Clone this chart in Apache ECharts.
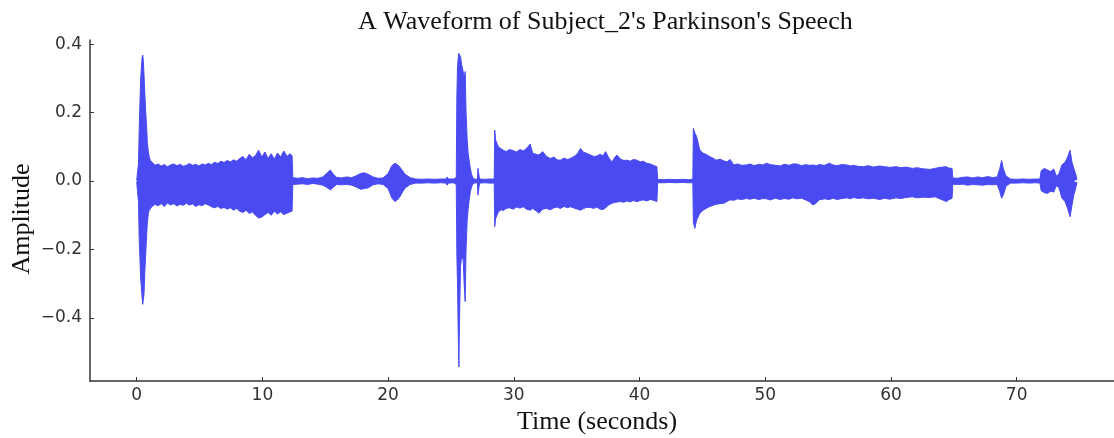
<!DOCTYPE html>
<html>
<head>
    <meta charset="utf-8">
    <title>Waveform</title>
    <script src="https://cdn.jsdelivr.net/npm/echarts@6/dist/echarts.min.js"></script>
    <style>
        html, body { margin: 0; padding: 0; background: #fff; }
    </style>
</head>
<body>
<div id="main" style="width: 1114px;height:438px;"></div>
<script type="text/javascript">

    // envelope: time (s), upper and lower amplitude
    const timeSec = [
        0.00, 0.12,
        // first burst
        0.14, 0.20, 0.25, 0.31, 0.37, 0.43, 0.48, 0.53, 0.58, 0.64, 0.72, 0.80, 0.85, 0.93, 1.00, 1.10, 1.20,
        1.45, 1.70, 1.95, 2.20, 2.45, 2.70, 2.95, 3.20, 3.45, 3.70, 3.95, 4.20, 4.45, 4.70, 4.95, 5.20, 5.45, 5.70, 5.95,
        6.20, 6.45, 6.70, 6.95, 7.20, 7.45, 7.70, 7.95, 8.20, 8.45, 8.70, 8.95, 9.20, 9.45, 9.70, 9.95,
        10.20, 10.45, 10.70, 10.95, 11.20, 11.45, 11.70, 11.95, 12.20, 12.36,
        // quiet part
        12.42, 12.80, 13.20, 13.60, 14.00, 14.40, 14.80, 15.10, 15.40, 15.65, 15.90, 16.30, 16.70, 17.10,
        17.50, 17.80, 18.10, 18.40, 18.80, 19.20, 19.60, 20.00, 20.30, 20.55, 20.80, 20.95, 21.15, 21.35, 21.75,
        22.20, 22.70, 23.20, 23.70, 24.20, 24.60, 24.70, 24.80, 25.20, 25.42,
        // second spike
        25.47, 25.52, 25.58, 25.63, 25.68, 25.76, 25.85, 25.97, 26.05, 26.13, 26.20, 26.29, 26.37, 26.45, 26.55, 26.65,
        26.80, 27.10, 27.15, 27.22, 27.27, 27.70, 28.10, 28.44,
        // third burst
        28.48, 28.55, 28.77, 29.00, 29.17, 29.40, 29.65, 29.96, 30.20, 30.49, 30.75, 31.00, 31.30, 31.50, 31.80,
        32.00, 32.30, 32.60, 32.90, 33.20, 33.45, 33.70, 34.00, 34.25, 34.50, 34.80, 35.05, 35.30, 35.55, 35.80,
        36.10, 36.35, 36.60, 36.85, 37.10, 37.30, 37.55, 37.80, 38.05, 38.20, 38.50, 38.75, 39.00, 39.25, 39.50,
        39.80, 40.05, 40.30, 40.57, 40.85, 41.10, 41.38,
        // quiet part
        41.44, 41.90, 42.40, 42.90, 43.40, 43.90, 44.24,
        // fourth burst
        44.28, 44.40, 44.54, 44.80, 45.07, 45.30, 45.60, 45.90, 46.10, 46.40, 46.70, 46.95, 47.20, 47.50, 47.80,
        48.10, 48.50, 48.80, 49.10, 49.50, 49.80, 50.10, 50.40, 50.80, 51.20, 51.50, 51.90, 52.20, 52.50, 52.90,
        53.20, 53.50, 53.80, 54.05, 54.30, 54.70, 55.10, 55.40, 55.70, 56.10, 56.50, 56.80, 57.00, 57.40, 57.80,
        58.20, 58.60, 59.10, 59.50, 59.90, 60.40, 60.80, 61.20, 61.70, 62.10, 62.50, 63.10, 63.50, 63.90, 64.40,
        64.60, 64.86,
        // tail
        64.92, 65.30, 65.70, 66.10, 66.50, 66.90, 67.30, 67.70, 68.10, 68.45, 68.65, 68.80, 68.95, 69.15,
        69.50, 70.00, 70.50, 71.00, 71.50, 71.85, 71.95, 72.20, 72.45, 72.70, 72.95, 73.15, 73.35,
        73.60, 73.85, 74.05, 74.25, 74.40, 74.55, 74.70, 74.80
    ];

    const upperAmp = [
        0.003, 0.004,
        0.05, 0.15, 0.22, 0.29, 0.33, 0.36, 0.368, 0.35, 0.31, 0.26, 0.20, 0.15, 0.11, 0.085, 0.07, 0.06, 0.055,
        0.046, 0.050, 0.044, 0.048, 0.042, 0.047, 0.050, 0.045, 0.049, 0.043, 0.046, 0.051, 0.046, 0.049, 0.044, 0.050, 0.047, 0.052, 0.048,
        0.055, 0.051, 0.058, 0.054, 0.060, 0.056, 0.062, 0.058, 0.066, 0.072, 0.062, 0.078, 0.068, 0.075, 0.090, 0.070,
        0.085, 0.066, 0.080, 0.064, 0.082, 0.070, 0.088, 0.072, 0.080, 0.074,
        0.010, 0.008, 0.010, 0.007, 0.009, 0.008, 0.012, 0.022, 0.032, 0.020, 0.011, 0.009, 0.012, 0.010,
        0.016, 0.022, 0.024, 0.020, 0.012, 0.008, 0.009, 0.022, 0.045, 0.052, 0.046, 0.040, 0.030, 0.020, 0.010,
        0.006, 0.005, 0.006, 0.005, 0.006, 0.006, 0.012, 0.006, 0.006, 0.010,
        0.25, 0.334, 0.36, 0.373, 0.37, 0.363, 0.34, 0.32, 0.30, 0.32, 0.20, 0.12, 0.08, 0.06, 0.035, 0.018,
        0.006, 0.005, 0.037, 0.037, 0.006, 0.005, 0.006, 0.006,
        0.149, 0.12, 0.10, 0.094, 0.09, 0.086, 0.092, 0.089, 0.085, 0.092, 0.088, 0.095, 0.108, 0.081, 0.078,
        0.076, 0.086, 0.072, 0.066, 0.070, 0.062, 0.061, 0.067, 0.063, 0.066, 0.072, 0.080, 0.095, 0.084, 0.081,
        0.076, 0.072, 0.073, 0.078, 0.074, 0.086, 0.068, 0.056, 0.070, 0.076, 0.064, 0.060, 0.061, 0.058, 0.063,
        0.061, 0.056, 0.058, 0.052, 0.050, 0.046, 0.042,
        0.005, 0.004, 0.005, 0.004, 0.005, 0.004, 0.005,
        0.154, 0.14, 0.13, 0.09, 0.081, 0.078, 0.071, 0.066, 0.061, 0.064, 0.059, 0.056, 0.063, 0.047, 0.050,
        0.046, 0.047, 0.050, 0.045, 0.049, 0.047, 0.052, 0.048, 0.046, 0.044, 0.049, 0.046, 0.050, 0.050, 0.045,
        0.048, 0.046, 0.047, 0.045, 0.048, 0.046, 0.052, 0.047, 0.045, 0.048, 0.047, 0.044, 0.046, 0.043, 0.042,
        0.045, 0.041, 0.044, 0.042, 0.040, 0.042, 0.039, 0.041, 0.037, 0.039, 0.036, 0.034, 0.037, 0.040, 0.042,
        0.038, 0.037,
        0.009, 0.008, 0.011, 0.012, 0.009, 0.012, 0.010, 0.013, 0.010, 0.012, 0.035, 0.060, 0.035, 0.015,
        0.006, 0.005, 0.006, 0.005, 0.006, 0.006, 0.030, 0.037, 0.032, 0.028, 0.035, 0.015, 0.020,
        0.047, 0.055, 0.070, 0.090, 0.055, 0.037, 0.020, 0.004
    ];

    const lowerAmp = [
        -0.003, -0.004,
        -0.06, -0.17, -0.22, -0.28, -0.31, -0.34, -0.36, -0.364, -0.33, -0.27, -0.21, -0.153, -0.12, -0.094, -0.085, -0.08, -0.075,
        -0.068, -0.072, -0.066, -0.074, -0.064, -0.070, -0.066, -0.073, -0.068, -0.071, -0.065, -0.070, -0.067, -0.074, -0.069, -0.072, -0.066, -0.070, -0.075,
        -0.078, -0.074, -0.080, -0.077, -0.082, -0.078, -0.085, -0.080, -0.088, -0.092, -0.085, -0.095, -0.090, -0.100, -0.108, -0.105,
        -0.098, -0.092, -0.100, -0.088, -0.096, -0.090, -0.098, -0.094, -0.090, -0.088,
        -0.010, -0.009, -0.008, -0.010, -0.007, -0.009, -0.012, -0.018, -0.026, -0.018, -0.010, -0.011, -0.010, -0.012,
        -0.018, -0.024, -0.022, -0.020, -0.011, -0.008, -0.010, -0.022, -0.050, -0.060, -0.052, -0.045, -0.032, -0.020, -0.010,
        -0.006, -0.006, -0.005, -0.006, -0.005, -0.006, -0.012, -0.006, -0.005, -0.010,
        -0.22, -0.30, -0.45, -0.543, -0.40, -0.25, -0.22, -0.23, -0.30, -0.352, -0.20, -0.114, -0.08, -0.055, -0.03, -0.015,
        -0.006, -0.005, -0.041, -0.041, -0.006, -0.005, -0.006, -0.006,
        -0.133, -0.11, -0.09, -0.084, -0.086, -0.080, -0.078, -0.082, -0.076, -0.079, -0.075, -0.082, -0.085, -0.080, -0.088,
        -0.094, -0.082, -0.080, -0.084, -0.078, -0.076, -0.080, -0.074, -0.078, -0.075, -0.079, -0.082, -0.085, -0.080, -0.077,
        -0.077, -0.080, -0.076, -0.082, -0.083, -0.078, -0.070, -0.065, -0.062, -0.064, -0.060, -0.062, -0.058, -0.061, -0.057,
        -0.060, -0.057, -0.055, -0.058, -0.054, -0.056, -0.060,
        -0.005, -0.005, -0.004, -0.005, -0.004, -0.005, -0.005,
        -0.12, -0.138, -0.114, -0.094, -0.085, -0.080, -0.074, -0.070, -0.068, -0.066, -0.065, -0.060, -0.055, -0.056, -0.052,
        -0.054, -0.051, -0.053, -0.050, -0.054, -0.051, -0.052, -0.055, -0.050, -0.054, -0.051, -0.053, -0.049, -0.052, -0.050,
        -0.055, -0.060, -0.070, -0.064, -0.055, -0.052, -0.054, -0.050, -0.054, -0.051, -0.049, -0.052, -0.048, -0.051, -0.049,
        -0.052, -0.050, -0.054, -0.050, -0.053, -0.049, -0.051, -0.048, -0.046, -0.049, -0.047, -0.048, -0.046, -0.052, -0.060,
        -0.055, -0.050,
        -0.009, -0.010, -0.009, -0.012, -0.010, -0.011, -0.012, -0.010, -0.011, -0.010, -0.030, -0.050, -0.040, -0.015,
        -0.006, -0.006, -0.005, -0.006, -0.005, -0.006, -0.028, -0.034, -0.036, -0.030, -0.032, -0.014, -0.018,
        -0.050, -0.060, -0.080, -0.104, -0.070, -0.040, -0.020, -0.004
    ];

    const xTickValues = [0, 10, 20, 30, 40, 50, 60, 70];
    const yTickValues = [-0.4, -0.2, 0, 0.2, 0.4];
    const yTickLabels = ['\u22120.4', '\u22120.2', '0.0', '0.2', '0.4'];

    const waveColor = '#4a4af2';
    const axisColor = '#333333';

    const upperData = timeSec.map((t, i) => [t, upperAmp[i]]);
    const lowerData = timeSec.map((t, i) => [t, lowerAmp[i]]);

    const myChart = echarts.init(document.getElementById('main'), null, {renderer: 'canvas'});

    const option = {
        animation: false,
        backgroundColor: '#ffffff',
        title: {
            text: "A Waveform of Subject_2's Parkinson's Speech",
            left: 358,
            top: 9,
            padding: 0,
            textStyle: {
                fontFamily: 'Liberation Serif',
                fontSize: 26,
                fontWeight: 'normal',
                color: '#111111'
            }
        },
        grid: {
            left: 90,
            top: 40,
            width: 1030,
            height: 341,
            outerBoundsMode: 'none'
        },
        xAxis: {
            type: 'value',
            min: -3.715,
            max: 78.22,
            name: 'Time (seconds)',
            nameLocation: 'middle',
            nameGap: 26,
            nameTextStyle: {
                fontFamily: 'Liberation Serif',
                fontSize: 26,
                color: '#111111',
                padding: [0, 16, 0, 0]
            },
            axisLine: {onZero: false, lineStyle: {color: axisColor, width: 1.5}},
            axisTick: {inside: true, length: 4, customValues: xTickValues, lineStyle: {color: axisColor, width: 1}},
            axisLabel: {
                customValues: xTickValues,
                margin: 6,
                fontFamily: 'DejaVu Sans',
                fontSize: 17,
                color: '#333333'
            },
            splitLine: {show: false}
        },
        yAxis: {
            type: 'value',
            min: -0.584,
            max: 0.412,
            name: 'Amplitude',
            nameLocation: 'middle',
            nameGap: 55,
            nameMoveOverlap: false,
            nameRotate: 90,
            nameTextStyle: {
                fontFamily: 'Liberation Serif',
                fontSize: 26,
                color: '#111111',
                padding: [0, 17, 0, 0]
            },
            axisLine: {onZero: false, lineStyle: {color: axisColor, width: 1.5}},
            axisTick: {inside: true, length: 4, customValues: yTickValues, lineStyle: {color: axisColor, width: 1}},
            axisLabel: {
                customValues: yTickValues,
                margin: 8,
                fontFamily: 'DejaVu Sans',
                fontSize: 17,
                color: '#333333',
                formatter: function (v) {
                    const i = yTickValues.findIndex(x => Math.abs(x - v) < 1e-9);
                    return i >= 0 ? yTickLabels[i] : '';
                }
            },
            splitLine: {show: false}
        },
        series: [
            {
                type: 'line',
                data: upperData,
                showSymbol: false,
                lineStyle: {color: waveColor, width: 1},
                areaStyle: {color: waveColor, opacity: 1, origin: 0}
            },
            {
                type: 'line',
                data: lowerData,
                showSymbol: false,
                lineStyle: {color: waveColor, width: 1},
                areaStyle: {color: waveColor, opacity: 1, origin: 0}
            }
        ]
    };

    myChart.setOption(option);
</script>
</body>
</html>
